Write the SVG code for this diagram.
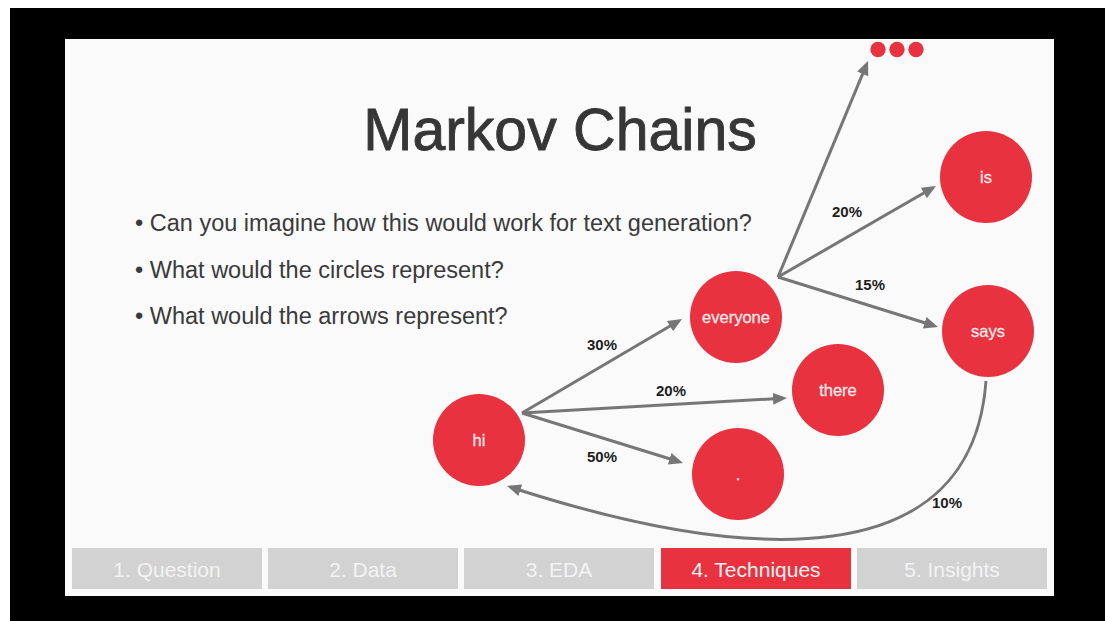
<svg xmlns="http://www.w3.org/2000/svg" width="1105" height="621" viewBox="0 0 1105 621">
<defs>
<style>
.node{fill:#e9323f}
.nt{font-family:"Liberation Sans",Arial,sans-serif;font-size:16.5px;fill:#fbe9ea;text-anchor:middle;stroke:#fbe9ea;stroke-width:0.3}
.lbl{font-family:"Liberation Sans",Arial,sans-serif;font-size:15px;font-weight:bold;fill:#1e1e1e;text-anchor:middle}
.bul{font-family:"Liberation Sans",Arial,sans-serif;font-size:23.5px;fill:#3a3a3a}
.edge{fill:none;stroke:#767676;stroke-width:3}
.tab{fill:#d2d2d2}
.tt{font-family:"Liberation Sans",Arial,sans-serif;font-size:21px;fill:#f3f3f3;text-anchor:middle}
</style>
<marker id="ah" markerUnits="userSpaceOnUse" markerWidth="16" markerHeight="14" refX="10" refY="6" orient="auto">
<path d="M0,0 L14,6 L0,12 z" fill="#767676"/>
</marker>
</defs>
<rect x="0" y="0" width="1105" height="621" fill="#ffffff"/>
<rect x="10" y="8" width="1095" height="613" fill="#000000"/>
<rect x="65" y="39" width="989" height="557" fill="#fafafa"/>
<text x="560" y="150" font-family="'Liberation Sans',Arial,sans-serif" font-size="59" fill="#363636" stroke="#363636" stroke-width="0.9" text-anchor="middle">Markov Chains</text>
<g id="bullets">
<text class="bul" x="135" y="231">• Can you imagine how this would work for text generation?</text>
<text class="bul" x="135" y="278">• What would the circles represent?</text>
<text class="bul" x="135" y="324">• What would the arrows represent?</text>
</g>
<g id="connectors">
<line class="edge" x1="522" y1="413" x2="678.6" y2="321" marker-end="url(#ah)"/>
<line class="edge" x1="522" y1="413" x2="783" y2="398.2" marker-end="url(#ah)"/>
<line class="edge" x1="522" y1="413" x2="679.2" y2="461.8" marker-end="url(#ah)"/>
<line class="edge" x1="778" y1="277" x2="932.5" y2="188" marker-end="url(#ah)"/>
<line class="edge" x1="778" y1="277" x2="934.2" y2="325.8" marker-end="url(#ah)"/>
<line class="edge" x1="778" y1="277" x2="866.5" y2="64.7" marker-end="url(#ah)"/>
<path class="edge" d="M986,381 C972,575 750,565 510.8,487.2" marker-end="url(#ah)"/>
<text class="lbl" x="602" y="350">30%</text>
<text class="lbl" x="671" y="396">20%</text>
<text class="lbl" x="602" y="462">50%</text>
<text class="lbl" x="847" y="217">20%</text>
<text class="lbl" x="870" y="290">15%</text>
<text class="lbl" x="947" y="508">10%</text>
</g>
<g id="node-hi"><circle class="node" cx="479" cy="440" r="46"/><text class="nt" x="479" y="446">hi</text></g>
<g id="node-everyone"><circle class="node" cx="736" cy="317" r="46"/><text class="nt" x="736" y="323">everyone</text></g>
<g id="node-there"><circle class="node" cx="838" cy="390" r="46"/><text class="nt" x="838" y="396">there</text></g>
<g id="node-period"><circle class="node" cx="738" cy="474" r="46"/><text class="nt" x="738" y="480">.</text></g>
<g id="node-is"><circle class="node" cx="986" cy="177" r="46"/><text class="nt" x="986" y="183">is</text></g>
<g id="node-says"><circle class="node" cx="988" cy="331" r="46"/><text class="nt" x="988" y="337">says</text></g>
<g id="node-more"><circle class="node" cx="878" cy="49.5" r="7.7"/><circle class="node" cx="897" cy="49.5" r="7.7"/><circle class="node" cx="916" cy="49.5" r="7.7"/></g>
<g id="tabs">
<rect class="tab" x="72" y="548" width="190" height="41"/><text class="tt" x="167" y="577">1. Question</text>
<rect class="tab" x="268" y="548" width="190" height="41"/><text class="tt" x="363" y="577">2. Data</text>
<rect class="tab" x="464" y="548" width="190" height="41"/><text class="tt" x="559" y="577">3. EDA</text>
<rect x="661" y="548" width="190" height="41" fill="#e9323f"/><text class="tt" x="756" y="577" fill="#ffffff">4. Techniques</text>
<rect class="tab" x="857" y="548" width="190" height="41"/><text class="tt" x="952" y="577">5. Insights</text>
</g>
</svg>
